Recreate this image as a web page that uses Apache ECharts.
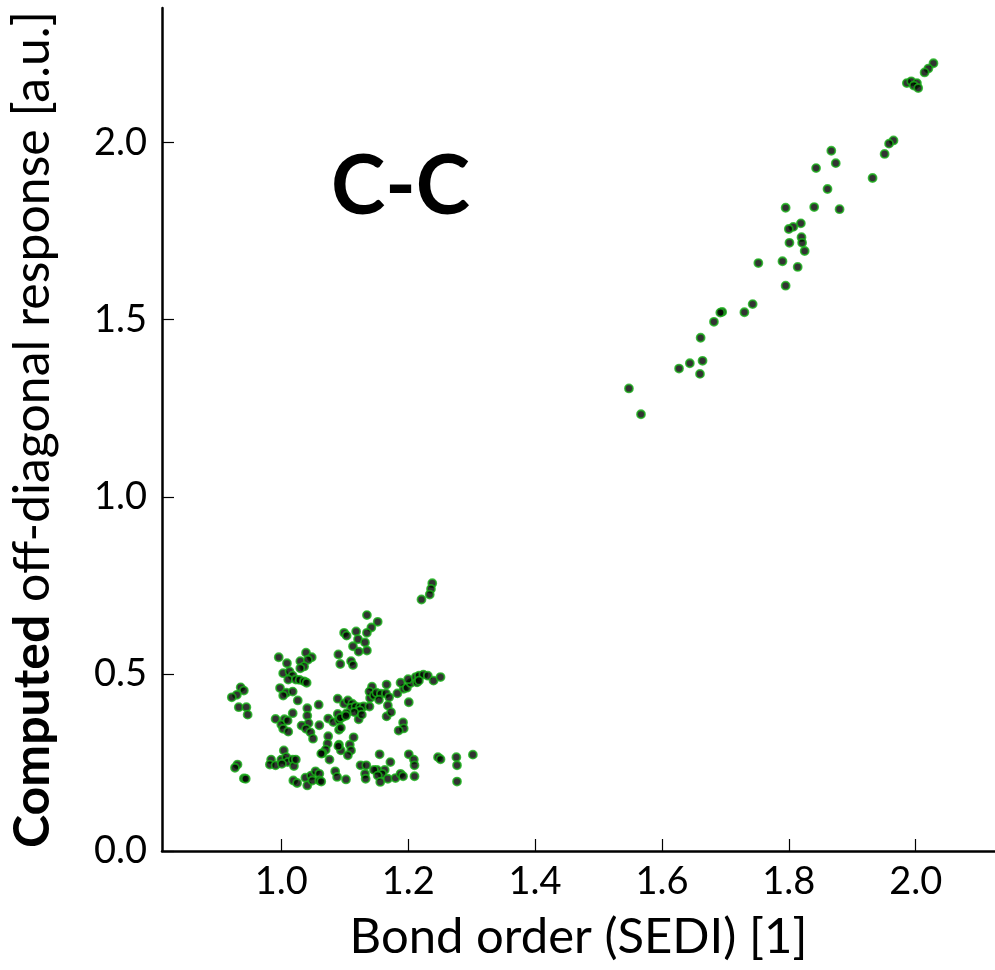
<!DOCTYPE html>
<html>
<head>
<meta charset="utf-8">
<script src="https://cdn.jsdelivr.net/npm/echarts@6/dist/echarts.min.js"></script>
<style>
  html, body { margin: 0; padding: 0; background: #fff; }
  #chart { width: 995px; height: 970px; }
</style>
</head>
<body>
<div id="chart"></div>
<script>
// tick labels
const xTicks = [1.0, 1.2, 1.4, 1.6, 1.8, 2.0]
const yTicks = [0.0, 0.5, 1.0, 1.5, 2.0]

// double-bond-like cluster (upper right)
const highBond = [2.028, 2.020, 2.014, 1.986, 1.993, 2.002, 1.997, 2.004, 1.965, 1.958,
  1.951, 1.932, 1.867, 1.874, 1.843, 1.861, 1.795, 1.840, 1.880, 1.819,
  1.807, 1.800, 1.820, 1.821, 1.825, 1.801, 1.752, 1.790, 1.814, 1.795,
  1.743, 1.730, 1.695, 1.692, 1.682, 1.661, 1.664, 1.644, 1.627, 1.660,
  1.548, 1.567]
const highResp = [2.224, 2.209, 2.198, 2.168, 2.173, 2.168, 2.161, 2.154, 2.006, 1.997,
  1.968, 1.900, 1.977, 1.942, 1.928, 1.869, 1.816, 1.818, 1.812, 1.772,
  1.762, 1.756, 1.733, 1.717, 1.694, 1.717, 1.660, 1.665, 1.649, 1.596,
  1.544, 1.521, 1.522, 1.520, 1.494, 1.449, 1.384, 1.377, 1.362, 1.347,
  1.306, 1.233]

// single-bond-like cluster (lower left)
const lowBond = [1.238, 1.236, 1.234, 1.221, 1.135, 1.152, 1.142, 1.135, 1.118, 1.099,
  1.103, 1.121, 1.132, 1.113, 1.135, 1.122, 1.090, 1.093, 1.110, 1.113,
  0.996, 1.009, 1.039, 1.048, 1.030, 1.042, 1.036, 1.030, 1.003, 1.013,
  1.018, 1.011, 1.023, 1.029, 1.036, 1.040, 0.998, 1.008, 1.018, 1.003,
  1.026, 0.936, 0.941, 0.930, 0.922, 0.933, 0.945, 0.947, 0.931, 0.927,
  0.941, 0.944, 1.041, 1.059, 1.018, 0.991, 1.005, 1.000, 1.010, 1.003,
  1.011, 1.041, 1.043, 1.032, 1.039, 1.046, 1.050, 1.060, 1.074, 1.082,
  1.089, 1.091, 1.097, 1.089, 1.099, 1.105, 1.112, 1.110, 1.117, 1.124,
  1.130, 1.124, 1.115, 1.103, 1.093, 1.102, 1.139, 1.140, 1.143, 1.139,
  1.146, 1.150, 1.157, 1.165, 1.154, 1.170, 1.168, 1.166, 1.173, 1.166,
  1.122, 1.127, 1.091, 1.094, 1.074, 1.114, 1.073, 1.070, 1.065, 1.063,
  1.091, 1.094, 1.090, 1.108, 1.110, 1.105, 1.076, 1.192, 1.193, 1.185,
  1.201, 1.183, 1.193, 1.198, 1.204, 1.188, 1.200, 1.212, 1.217, 1.224,
  1.231, 1.240, 1.251, 1.214, 1.217, 0.984, 0.982, 0.991, 1.000, 1.004,
  1.008, 1.010, 1.018, 1.020, 1.023, 1.001, 1.019, 1.025, 1.038, 1.041,
  1.047, 1.054, 1.060, 1.049, 1.060, 1.063, 1.085, 1.088, 1.102, 1.125,
  1.134, 1.132, 1.133, 1.155, 1.172, 1.163, 1.151, 1.146, 1.159, 1.152,
  1.156, 1.168, 1.180, 1.188, 1.192, 1.201, 1.209, 1.210, 1.210, 1.247,
  1.251, 1.276, 1.277, 1.277, 1.302]
const lowResp = [0.756, 0.740, 0.724, 0.710, 0.666, 0.647, 0.631, 0.616, 0.620, 0.616,
  0.608, 0.598, 0.589, 0.578, 0.566, 0.563, 0.555, 0.528, 0.536, 0.525,
  0.547, 0.530, 0.560, 0.547, 0.536, 0.540, 0.521, 0.516, 0.502, 0.507,
  0.495, 0.484, 0.484, 0.483, 0.479, 0.475, 0.460, 0.447, 0.450, 0.439,
  0.425, 0.462, 0.453, 0.441, 0.434, 0.406, 0.406, 0.385, 0.244, 0.235,
  0.205, 0.204, 0.403, 0.413, 0.389, 0.373, 0.372, 0.357, 0.368, 0.345,
  0.337, 0.382, 0.361, 0.354, 0.345, 0.335, 0.317, 0.355, 0.374, 0.364,
  0.387, 0.370, 0.378, 0.430, 0.416, 0.425, 0.416, 0.404, 0.408, 0.406,
  0.408, 0.397, 0.392, 0.389, 0.376, 0.382, 0.408, 0.432, 0.464, 0.450,
  0.439, 0.447, 0.444, 0.445, 0.427, 0.434, 0.411, 0.380, 0.392, 0.470,
  0.372, 0.385, 0.342, 0.348, 0.324, 0.321, 0.303, 0.286, 0.276, 0.275,
  0.300, 0.284, 0.296, 0.300, 0.284, 0.270, 0.258, 0.363, 0.346, 0.340,
  0.420, 0.445, 0.458, 0.461, 0.474, 0.475, 0.485, 0.491, 0.495, 0.498,
  0.495, 0.481, 0.491, 0.476, 0.481, 0.258, 0.244, 0.242, 0.258, 0.284,
  0.265, 0.251, 0.258, 0.240, 0.258, 0.246, 0.199, 0.192, 0.207, 0.185,
  0.213, 0.225, 0.218, 0.199, 0.199, 0.196, 0.225, 0.209, 0.202, 0.242,
  0.242, 0.218, 0.204, 0.273, 0.251, 0.229, 0.229, 0.229, 0.218, 0.213,
  0.195, 0.204, 0.206, 0.218, 0.211, 0.273, 0.258, 0.242, 0.211, 0.265,
  0.259, 0.265, 0.242, 0.196, 0.272]

const FONT = 'Lato'

function pairs(xs, ys) {
  return xs.map((x, i) => [x, ys[i]])
}

const chart = echarts.init(document.getElementById('chart'), null, { renderer: 'canvas' })

const dotStyle = {
  color: '#000',
  borderColor: '#19b019',
  borderWidth: 1.8,
}

chart.setOption({
  animation: false,
  backgroundColor: '#fff',
  grid: { left: 157, right: 0, top: 8, bottom: 119 },
  xAxis: {
    type: 'value',
    min: 0.812,
    max: 2.125,
    name: 'Bond order (SEDI) [1]',
    nameLocation: 'middle',
    nameGap: 62,
    nameTextStyle: { fontFamily: FONT, fontSize: 49, color: '#000' },
    axisLine: { show: true, onZero: false, lineStyle: { color: '#000', width: 2.5 } },
    axisTick: { show: true, inside: true, length: 12, customValues: xTicks, lineStyle: { color: '#000', width: 1.2 } },
    axisLabel: {
      customValues: xTicks,
      formatter: v => v.toFixed(1),
      fontFamily: FONT, fontSize: 38, color: '#000', margin: 12,
    },
    splitLine: { show: false },
  },
  yAxis: {
    type: 'value',
    min: 0,
    max: 2.38,
    name: '{b|Computed} off-diagonal response [a.u.]',
    nameLocation: 'middle',
    nameGap: 104,
    nameRotate: 90,
    nameTextStyle: {
      fontFamily: FONT, fontSize: 50, color: '#000',
      rich: { b: { fontFamily: FONT, fontSize: 50, fontWeight: 'bold', color: '#000' } },
    },
    axisLine: { show: true, onZero: false, lineStyle: { color: '#000', width: 2.5 } },
    axisTick: { show: true, inside: true, length: 12, customValues: yTicks, lineStyle: { color: '#000', width: 1.2 } },
    axisLabel: {
      customValues: yTicks,
      formatter: v => v.toFixed(1),
      fontFamily: FONT, fontSize: 38, color: '#000', margin: 15,
    },
    splitLine: { show: false },
  },
  graphic: [{
    type: 'text',
    left: 331,
    top: 147,
    style: { text: 'C-C', fontFamily: FONT, fontSize: 82, fontWeight: 'bold', fill: '#000' },
  }],
  series: [{
    type: 'scatter',
    symbolSize: 8,
    itemStyle: dotStyle,
    data: pairs(lowBond, lowResp),
  }, {
    type: 'scatter',
    symbolSize: 8,
    itemStyle: dotStyle,
    data: pairs(highBond, highResp),
  }],
})
</script>
</body>
</html>
